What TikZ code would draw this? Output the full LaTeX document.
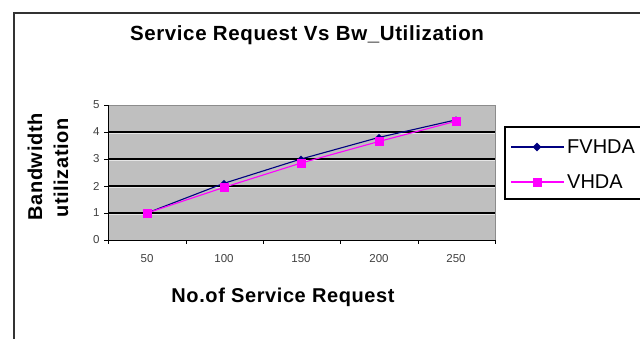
\documentclass[tikz,border=0pt]{standalone}
\usepackage{fontspec}
\setmainfont{Liberation Sans}
\newfontfamily\spacedsans[LetterSpace=3]{Liberation Sans}
\usetikzlibrary{shapes.geometric}
\begin{document}
\begin{tikzpicture}[x=1pt,y=-1pt,
  titletxt/.style={font=\spacedsans\bfseries\fontsize{20.5}{24}\selectfont},
  axtitle/.style={font=\spacedsans\bfseries\fontsize{20}{24}\selectfont},
  ticktxt/.style={font=\fontsize{11.5}{13}\selectfont, text=black!75},
  legtxt/.style={font=\fontsize{20}{22}\selectfont},
  grid line/.style={black, line width=1.6pt},
  fvhda/.style={draw={rgb,255:red,0;green,0;blue,128}, line width=1.1pt},
  vhda/.style={draw={rgb,255:red,255;green,0;blue,255}, line width=1.1pt},
  fmark/.style={fill={rgb,255:red,0;green,0;blue,128}, draw=none, diamond, shape aspect=1, inner sep=0pt, minimum size=7pt},
  vmark/.style={fill={rgb,255:red,255;green,0;blue,255}, draw=none, rectangle, inner sep=0pt, minimum size=9pt}
]
\useasboundingbox (0,0) rectangle (640,338);
\fill[white] (0,0) rectangle (640,338);

% outer chart frame (runs past the right and bottom edges)
\begin{scope}
  \clip (0,0) rectangle (640,338);
  \draw[black!80, line width=1.4pt] (14,345) -- (14,13) -- (650,13);
\end{scope}

% title
\node[titletxt] (title) at (307,35) {Service Request Vs Bw\_Utilization};

% plot area
\fill[black!25] (108,105) rectangle (495,240);
\draw[black!45, line width=0.8pt] (108,105) -- (495,105) -- (495,240);
\foreach \v in {1,2,3,4} {
  \draw[grid line] (108,{240-27*\v}) -- (495,{240-27*\v});
  \draw[black!10, line width=0.5pt] (108,{241.3-27*\v}) -- (495,{241.3-27*\v});
}

% axes and ticks
\draw[black, line width=1pt] (108,105) -- (108,240) -- (495,240);
\foreach \v in {0,...,5} {
  \draw[black, line width=1pt] (104,{240-27*\v}) -- (108,{240-27*\v});
  \node[ticktxt, anchor=east] (yl\v) at (103,{240-27*\v}) {\v};
}
\foreach \x in {108,186,263,340,418,495}
  \draw[black, line width=1pt] (\x,240) -- (\x,244);
\foreach \x/\t in {147/50,224/100,301/150,379/200,456/250}
  \node[ticktxt] (xl\t) at (\x,259) {\t};

% axis titles
\node[axtitle, rotate=90] (ylab1) at (35,167) {Bandwidth};
\node[axtitle, rotate=90] (ylab2) at (61,168) {utilization};
\node[axtitle] (xlab) at (283,297) {No.of Service Request};

% series data
\foreach \x/\v [count=\i] in {147/1,224/2.1,301/3,379/3.8,456/4.45}
  \coordinate (f\i) at (\x,{240-27*\v});
\foreach \x/\v [count=\i] in {147/1,224/1.95,301/2.85,379/3.65,456/4.4}
  \coordinate (m\i) at (\x,{240-27*\v});

\draw[fvhda] (f1) -- (f2) -- (f3) -- (f4) -- (f5);
\foreach \i in {1,...,5} \node[fmark] (fm\i) at (f\i) {};
\draw[vhda] (m1) -- (m2) -- (m3) -- (m4) -- (m5);
\foreach \i in {1,...,5} \node[vmark] (vm\i) at (m\i) {};

% legend
\begin{scope}
  \clip (0,0) rectangle (640,338);
  \draw[black, line width=1.2pt] (650,127) -- (505,127) -- (505,199) -- (650,199);
\end{scope}
\coordinate (lf1) at (511,147);
\coordinate (lf2) at (564,147);
\draw[fvhda] (lf1) -- (lf2);
\node[fmark, minimum size=9pt] (lfm) at (537,147) {};
\node[legtxt, anchor=west, inner sep=0pt] (lft) at (567,147) {FVHDA};
\coordinate (lv1) at (511,182);
\coordinate (lv2) at (564,182);
\draw[vhda] (lv1) -- (lv2);
\node[vmark, minimum size=9pt] (lvm) at (537,182) {};
\node[legtxt, anchor=west, inner sep=0pt] (lvt) at (567,182) {VHDA};
\end{tikzpicture}
\end{document}
